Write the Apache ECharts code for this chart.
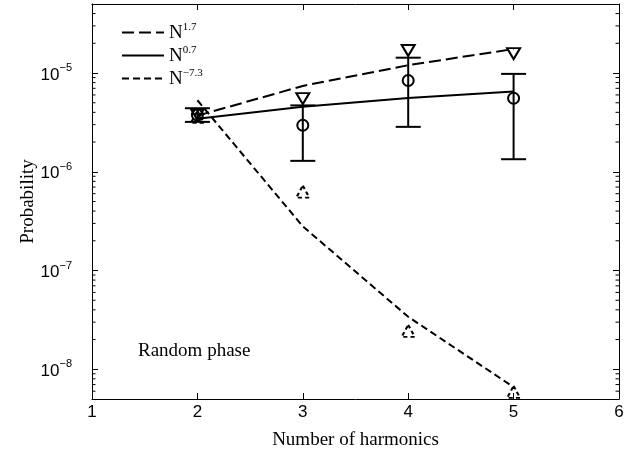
<!DOCTYPE html>
<html>
<head>
<meta charset="utf-8">
<script src="https://cdn.jsdelivr.net/npm/echarts@6/dist/echarts.min.js"></script>
<style>
  html, body { margin: 0; padding: 0; background: #fff; }
  #chart { width: 641px; height: 455px; }
</style>
</head>
<body>
<div id="chart"></div>
<script>
// Number of harmonics N at which probabilities were evaluated
const harmonics = [2, 3, 4, 5];

// Power-law fits  P ~ N^k
const fitExponents = ['1.7', '0.7', '\u22127.3'];
const fitPow17 = [3.7e-6, 7.4e-6, 1.2e-5, 1.75e-5];
const fitPow07 = [3.45e-6, 4.55e-6, 5.6e-6, 6.5e-6];
const fitPowNeg73 = [5.3e-6, 2.8e-7, 3.4e-8, 6.6e-9];

// Measured probability with error bars
const measured = [3.75e-6, 2.96e-6, 8.4e-6, 5.55e-6];
const measuredLow = [3.2e-6, 1.29e-6, 2.85e-6, 1.34e-6];
const measuredHigh = [4.4e-6, 4.7e-6, 1.43e-5, 9.8e-6];

// Estimates drawn as open triangles
const downTriangles = [3.8e-6, 5.5e-6, 1.69e-5, 1.57e-5];
const upTriangles = [3.6e-6, 6.3e-7, 2.45e-8, 5.9e-9];

// Axis ranges
const xRange = [1, 6];
const yRange = [5e-9, 5e-5];
const yDecades = [1e-9, 1e-8, 1e-7, 1e-6, 1e-5];

const SANS = 'Liberation Sans, Arial, sans-serif';
const SERIF = 'Liberation Serif, Times New Roman, serif';

const pairs = (ys) => harmonics.map((x, i) => [x, ys[i]]);

// Log-spaced minor tick positions (2..9 within each decade) inside the y range
const minorTicks = [];
yDecades.forEach((d) => {
  for (let m = 2; m <= 9; m++) {
    const v = m * d;
    if (v > yRange[0] * 1.0001 && v < yRange[1] * 0.9999) minorTicks.push([xRange[0], v]);
  }
});

const isDecade = (v) => {
  const l = Math.log10(v);
  return Math.abs(l - Math.round(l)) < 1e-6;
};

const chart = echarts.init(document.getElementById('chart'), null, { renderer: 'canvas' });

const baseX = {
  type: 'value', min: xRange[0], max: xRange[1], interval: 1,
  axisLine: { show: true, onZero: false, lineStyle: { color: '#000', width: 1 } },
  axisTick: { show: true, inside: true, length: 6, lineStyle: { color: '#000', width: 1 } },
  splitLine: { show: false }
};
const baseY = {
  type: 'log', logBase: 10, min: yRange[0], max: yRange[1],
  axisLine: { show: true, lineStyle: { color: '#000', width: 1 } },
  axisTick: { show: true, inside: true, length: 6, lineStyle: { color: '#000', width: 1 } },
  splitLine: { show: false }
};

const markerStyle = { color: 'rgba(0,0,0,0)', borderColor: '#000', borderWidth: 2, opacity: 1 };

const option = {
  animation: false,
  backgroundColor: '#fff',
  grid: { left: 92, right: 22, top: 4, bottom: 55, containLabel: false },
  title: {
    text: 'Random phase', left: 133, top: 337,
    textStyle: { fontFamily: SERIF, fontSize: 19, fontWeight: 'normal', color: '#000' }
  },
  legend: {
    data: fitExponents.map((e) => 'N' + e),
    orient: 'vertical', left: 116, top: 17,
    itemWidth: 42, itemHeight: 14, itemGap: 2,
    selectedMode: false,
    itemStyle: { color: 'rgba(0,0,0,0)', borderWidth: 0, opacity: 0 },
    formatter: (name) => '{b|N}{s|' + name.slice(1) + '}',
    textStyle: {
      color: '#000',
      rich: {
        b: { fontFamily: SERIF, fontSize: 19, lineHeight: 21, verticalAlign: 'bottom', color: '#000' },
        s: { fontFamily: SERIF, fontSize: 11, lineHeight: 21, verticalAlign: 'top', color: '#000' }
      }
    }
  },
  xAxis: [
    Object.assign({}, baseX, {
      position: 'bottom',
      name: 'Number of harmonics', nameLocation: 'middle', nameGap: 32,
      nameMoveOverlap: false,
      nameTextStyle: { fontFamily: SERIF, fontSize: 19, color: '#000' },
      axisLabel: { show: true, margin: 5, fontFamily: SANS, fontSize: 17, color: '#000' }
    }),
    Object.assign({}, baseX, { position: 'top', axisLabel: { show: false } })
  ],
  yAxis: [
    Object.assign({}, baseY, {
      position: 'left',
      name: 'Probability', nameLocation: 'middle', nameGap: 54,
      nameMoveOverlap: false,
      nameTextStyle: { fontFamily: SERIF, fontSize: 19, color: '#000' },
      axisLabel: {
        show: true, margin: 20, color: '#000',
        formatter: (v) => isDecade(v) ? '{b|10}{s|\u2212' + Math.abs(Math.round(Math.log10(v))) + '}' : '',
        rich: {
          b: { fontFamily: SANS, fontSize: 17, lineHeight: 21, verticalAlign: 'bottom', color: '#000' },
          s: { fontFamily: SANS, fontSize: 11, lineHeight: 21, verticalAlign: 'top', color: '#000' }
        }
      }
    }),
    Object.assign({}, baseY, { position: 'right', axisLabel: { show: false } })
  ],
  series: [
    {
      name: 'N' + fitExponents[0], type: 'line', data: pairs(fitPow17),
      symbol: 'none', z: 3, itemStyle: { color: '#000' },
      lineStyle: { color: '#000', width: 2, type: [12, 5] }
    },
    {
      name: 'N' + fitExponents[1], type: 'line', data: pairs(fitPow07),
      symbol: 'none', z: 3, itemStyle: { color: '#000' },
      lineStyle: { color: '#000', width: 2, type: 'solid' }
    },
    {
      name: 'N' + fitExponents[2], type: 'line', data: pairs(fitPowNeg73),
      symbol: 'none', z: 3, itemStyle: { color: '#000' },
      lineStyle: { color: '#000', width: 2, type: [7, 4] }
    },
    {
      // error bars of the measured probability
      type: 'custom', z: 4, silent: true,
      data: harmonics.map((x, i) => [x, measuredLow[i], measuredHigh[i]]),
      encode: { x: 0, y: [1, 2] },
      renderItem: (params, api) => {
        const x = api.value(0);
        const lo = api.coord([x, api.value(1)]);
        const hi = api.coord([x, api.value(2)]);
        const half = 12.5;
        const st = { stroke: '#000', lineWidth: 2 };
        return {
          type: 'group',
          children: [
            { type: 'line', shape: { x1: lo[0], y1: lo[1], x2: hi[0], y2: hi[1] }, style: st },
            { type: 'line', shape: { x1: lo[0] - half, y1: lo[1], x2: lo[0] + half, y2: lo[1] }, style: st },
            { type: 'line', shape: { x1: hi[0] - half, y1: hi[1], x2: hi[0] + half, y2: hi[1] }, style: st }
          ]
        };
      }
    },
    {
      type: 'scatter', data: pairs(measured), z: 5, silent: true,
      symbol: 'circle', symbolSize: 11,
      itemStyle: markerStyle
    },
    {
      type: 'scatter', data: pairs(downTriangles), z: 5, silent: true,
      symbol: 'triangle', symbolRotate: 180, symbolSize: [13, 11],
      itemStyle: markerStyle
    },
    {
      type: 'scatter', data: pairs(upTriangles), z: 5, silent: true,
      symbol: 'triangle', symbolSize: [13, 12],
      itemStyle: Object.assign({}, markerStyle, { borderType: [4, 3] })
    },
    {
      // log-spaced minor ticks on the left and right frame
      type: 'custom', z: 2, silent: true,
      data: minorTicks,
      encode: { x: 0, y: 1 },
      renderItem: (params, api) => {
        const v = api.value(1);
        const l = api.coord([xRange[0], v]);
        const r = api.coord([xRange[1], v]);
        const st = { stroke: '#000', lineWidth: 1 };
        return {
          type: 'group',
          children: [
            { type: 'line', shape: { x1: l[0], y1: l[1], x2: l[0] + 3.5, y2: l[1] }, style: st },
            { type: 'line', shape: { x1: r[0] - 3.5, y1: r[1], x2: r[0], y2: r[1] }, style: st }
          ]
        };
      }
    }
  ]
};

chart.setOption(option);
</script>
</body>
</html>
